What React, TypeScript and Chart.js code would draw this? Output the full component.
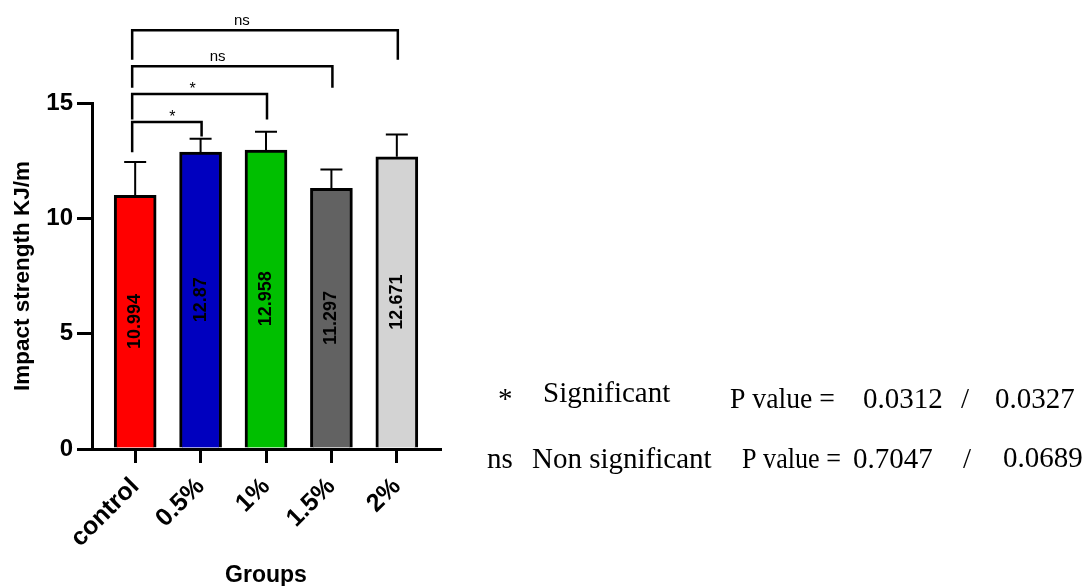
import React, { useEffect, useRef } from "react";
import { Chart, registerables } from "chart.js";

Chart.register(...registerables);

// ---------- data ----------
const categories = ["control", "0.5%", "1%", "1.5%", "2%"];
const means = [10.994, 12.87, 12.958, 11.297, 12.671];
const sdUpper = [1.45, 0.58, 0.8, 0.82, 0.96];
const barColors = ["#FF0000", "#0000BF", "#00BF00", "#626262", "#D3D3D3"];
const yTicks = [0, 5, 10, 15];
const yTitle = "Impact strength KJ/m";
const xTitle = "Groups";

// significance brackets (data units)
const bracketFrom = [0, 0, 0, 0];
const bracketTo = [1, 2, 3, 4];
const bracketLevel = [14.18, 15.39, 16.59, 18.15];
const bracketLeftEnd = [12.86, 14.28, 15.66, 16.88];
const bracketRightEnd = [13.55, 14.28, 15.66, 16.88];
const bracketLabel = ["*", "*", "ns", "ns"];
const bracketLabelAt = [0.57, 0.88, 1.26, 1.63];

// side notes
const noteSymbols = ["*", "ns"];
const noteMeanings = ["Significant", "Non significant"];
const notePLabel = "P value =";
const noteP1 = ["0.0312", "0.7047"];
const noteP2 = ["0.0327", "0.0689"];

// ---------- layout / style ----------
const W = 1087;
const H = 586;
const SANS = '"Liberation Sans", Arial, sans-serif';
const SERIF = '"Liberation Serif", "Times New Roman", serif';
const noteLayout = [
  { sym: [498, 408], mean: [543, 402], pl: [730, 408], plW: 105, p1: [863, 408], sl: [961, 408], p2: [995, 408] },
  { sym: [487, 468], mean: [532, 468], pl: [742, 468], plW: 99, p1: [853, 468], sl: [963, 468], p2: [1003, 467] },
];

const annotPlugin = {
  id: "annot",
  afterDatasetsDraw(chart: any) {
    const ctx = chart.ctx as CanvasRenderingContext2D;
    const ys = chart.scales.y;
    const meta = chart.getDatasetMeta(0);
    ctx.save();
    ctx.strokeStyle = "#000";
    ctx.lineWidth = 2;
    meta.data.forEach((el: any, i: number) => {
      const top = ys.getPixelForValue(means[i] + sdUpper[i]);
      ctx.beginPath();
      ctx.moveTo(el.x, el.y);
      ctx.lineTo(el.x, top);
      ctx.moveTo(el.x - 11, top);
      ctx.lineTo(el.x + 11, top);
      ctx.stroke();
    });
    ctx.fillStyle = "#000";
    ctx.font = `bold 18px ${SANS}`;
    ctx.textAlign = "center";
    ctx.textBaseline = "middle";
    meta.data.forEach((el: any, i: number) => {
      ctx.save();
      ctx.translate(el.x, (el.y + el.base) / 2);
      ctx.rotate(-Math.PI / 2);
      ctx.fillText(String(means[i]), 0, 0);
      ctx.restore();
    });
    ctx.restore();
  },
  afterDraw(chart: any) {
    const ctx = chart.ctx as CanvasRenderingContext2D;
    const xs = chart.scales.x;
    const ys = chart.scales.y;
    const area = chart.chartArea;
    ctx.save();
    // brackets
    ctx.strokeStyle = "#000";
    ctx.lineWidth = 2.5;
    ctx.lineJoin = "miter";
    ctx.fillStyle = "#000";
    ctx.textAlign = "center";
    ctx.textBaseline = "alphabetic";
    bracketFrom.forEach((f, i) => {
      const xl = xs.getPixelForValue(f) - 3;
      const xr = xs.getPixelForValue(bracketTo[i]) + 1;
      const yl = ys.getPixelForValue(bracketLevel[i]);
      ctx.beginPath();
      ctx.moveTo(xl, ys.getPixelForValue(bracketLeftEnd[i]));
      ctx.lineTo(xl, yl);
      ctx.lineTo(xr, yl);
      ctx.lineTo(xr, ys.getPixelForValue(bracketRightEnd[i]));
      ctx.stroke();
      const isStar = bracketLabel[i] === "*";
      ctx.font = `${isStar ? 16 : 15}px ${SANS}`;
      ctx.fillText(bracketLabel[i], xs.getPixelForValue(bracketLabelAt[i]), yl - (isStar ? 0 : 5));
    });
    // axis titles
    ctx.font = `bold 23px ${SANS}`;
    ctx.textBaseline = "middle";
    ctx.fillText(xTitle, (area.left + area.right) / 2, 576);
    ctx.save();
    ctx.translate(23, (area.top + area.bottom) / 2);
    ctx.rotate(-Math.PI / 2);
    ctx.font = `bold 22.5px ${SANS}`;
    ctx.fillText(yTitle, 0, 0);
    ctx.restore();
    // side notes
    ctx.font = `29px ${SERIF}`;
    ctx.textAlign = "left";
    ctx.textBaseline = "alphabetic";
    noteLayout.forEach((p, i) => {
      ctx.fillText(noteSymbols[i], p.sym[0], p.sym[1]);
      ctx.fillText(noteMeanings[i], p.mean[0], p.mean[1]);
      ctx.fillText(notePLabel, p.pl[0], p.pl[1], p.plW);
      ctx.fillText(noteP1[i], p.p1[0], p.p1[1]);
      ctx.fillText("/", p.sl[0], p.sl[1]);
      ctx.fillText(noteP2[i], p.p2[0], p.p2[1]);
    });
    ctx.restore();
  },
};

export default function App() {
  const ref = useRef<HTMLCanvasElement | null>(null);
  useEffect(() => {
    if (!ref.current) return;
    const chart = new Chart(ref.current, {
      type: "bar",
      data: {
        datasets: [
          {
            data: means.map((v, i) => ({ x: i, y: v })),
            backgroundColor: barColors,
            borderColor: "#000",
            borderWidth: 3,
            barThickness: 42,
          } as any,
        ],
      },
      options: {
        responsive: false,
        animation: false,
        events: [],
        layout: { padding: { left: 0, top: 103, right: W - 440, bottom: 0 } },
        plugins: {
          legend: { display: false },
          tooltip: { enabled: false },
          title: { display: false },
        },
        scales: {
          x: {
            type: "linear",
            min: -0.66,
            max: 4.66,
            offset: false,
            z: 1,
            afterBuildTicks: (s: any) => {
              s.ticks = categories.map((_, i) => ({ value: i }));
            },
            afterFit: (s: any) => {
              s.height = H - 449;
            },
            grid: { offset: false, drawOnChartArea: false, drawTicks: true, tickLength: 14, lineWidth: 3, color: "#000" },
            border: { display: true, width: 3, color: "#000" },
            ticks: {
              autoSkip: false,
              maxRotation: 45,
              minRotation: 45,
              padding: 9,
              color: "#000",
              font: { family: SANS, size: 25, weight: "bold" },
              callback: (v: any) => categories[v] ?? "",
            },
          },
          y: {
            min: 0,
            max: 15,
            z: 1,
            afterBuildTicks: (s: any) => {
              s.ticks = yTicks.map((v) => ({ value: v }));
            },
            afterFit: (s: any) => {
              s.width = 92;
            },
            grid: { drawOnChartArea: false, drawTicks: true, tickLength: 15, lineWidth: 3, color: "#000" },
            border: { display: true, width: 3, color: "#000" },
            ticks: {
              padding: 4,
              color: "#000",
              font: { family: SANS, size: 24, weight: "bold" },
            },
          },
        } as any,
      },
      plugins: [annotPlugin],
    });
    return () => chart.destroy();
  }, []);
  return (
    <div style={{ position: "absolute", left: 0, top: 0, width: W, height: H, background: "#fff" }}>
      <canvas ref={ref} width={W} height={H} style={{ display: "block" }} />
    </div>
  );
}
